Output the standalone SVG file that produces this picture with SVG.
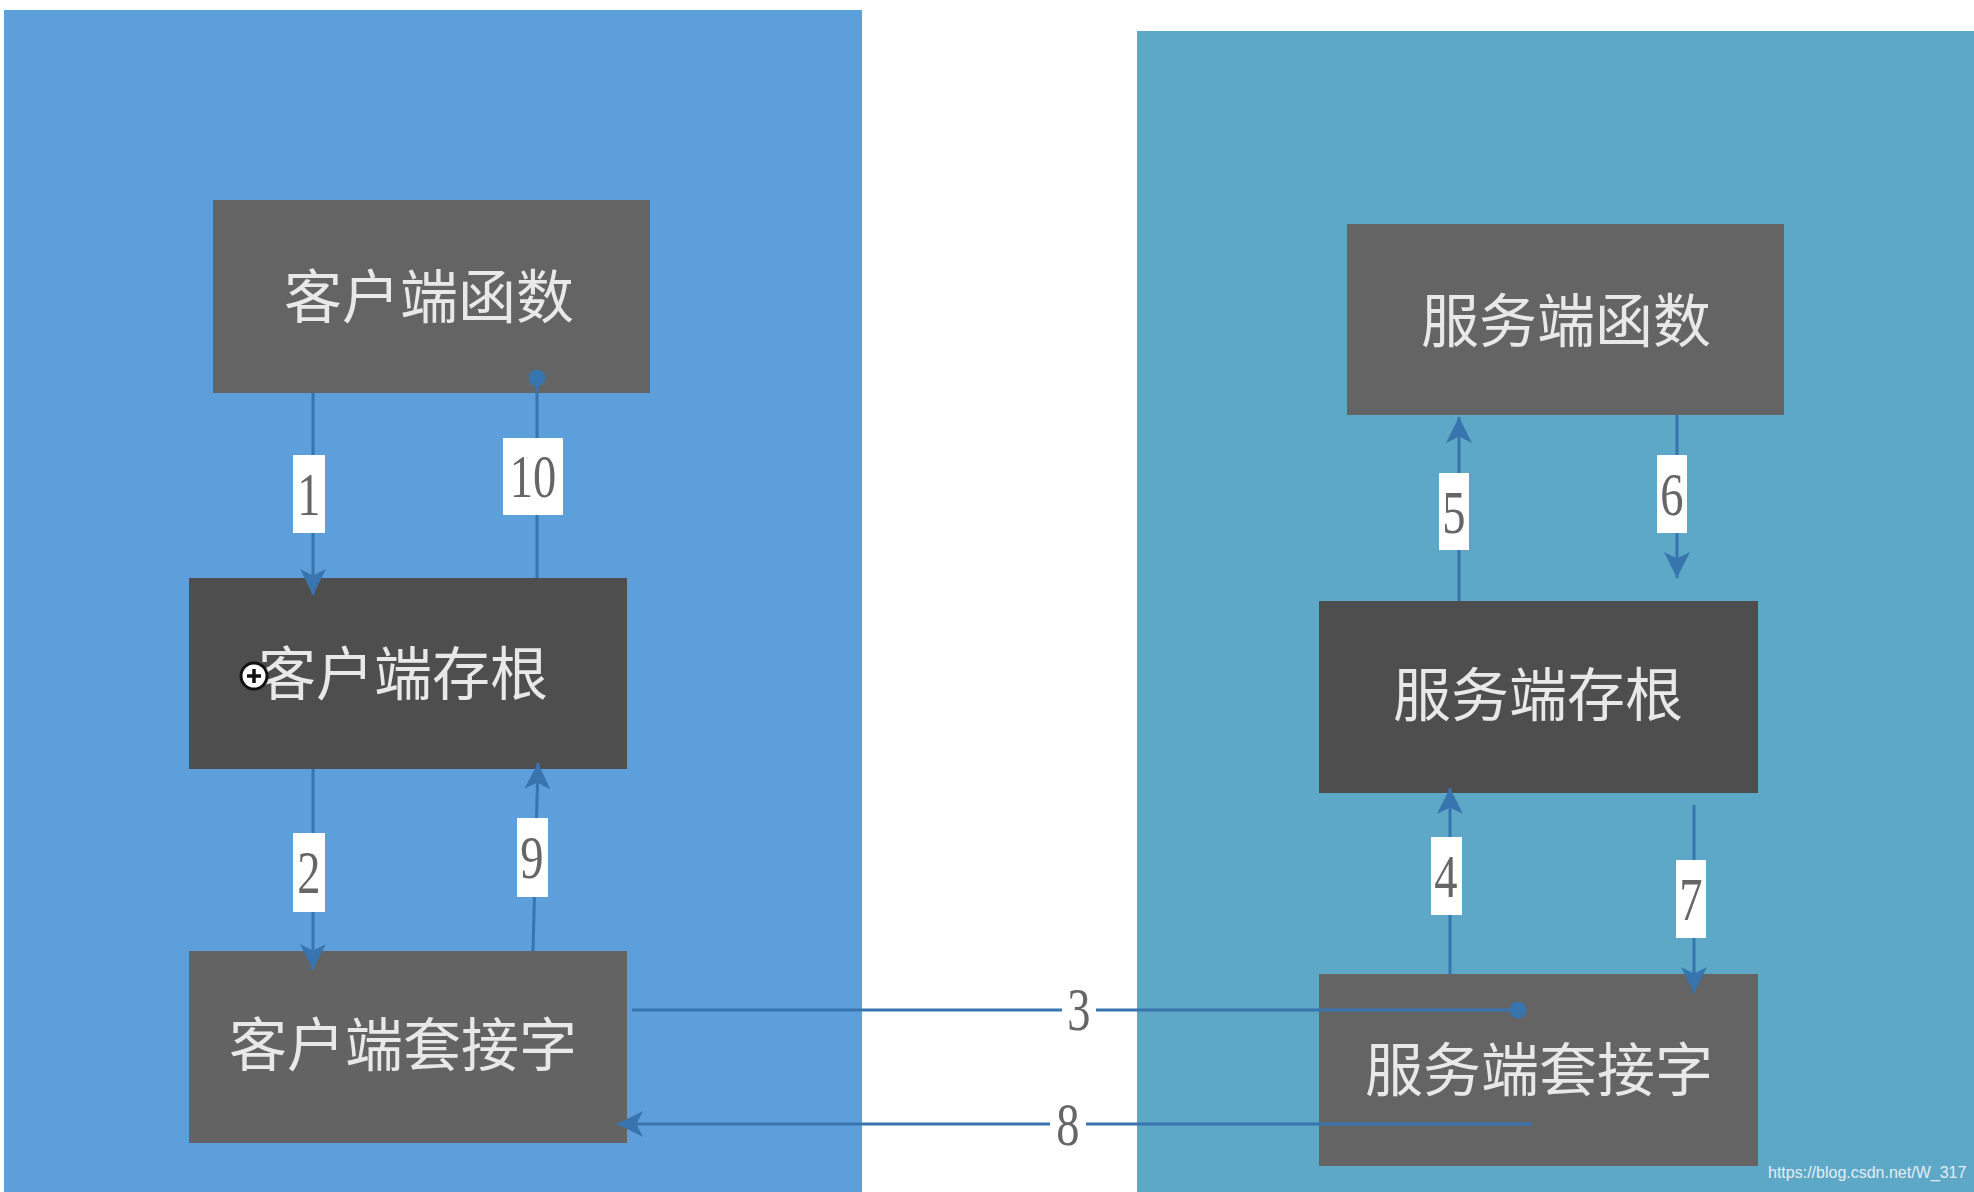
<svg xmlns="http://www.w3.org/2000/svg" width="1974" height="1192" viewBox="0 0 1974 1192">
<defs>
<style>
.node rect{stroke:none}
.nt{font-family:"Noto Sans CJK SC","Noto Sans",sans-serif;font-size:58px;fill:#e8e8e8;text-anchor:middle}
.conn{stroke:#3874ad;stroke-width:3;fill:none}
.lb{fill:#ffffff}
.lt{font-family:"Liberation Serif","DejaVu Serif",serif;font-size:62px;fill:#666666;text-anchor:middle}
.wm{font-family:"Liberation Sans",Arial,sans-serif;font-size:16px;fill:#e4edf3}
</style>
<marker id="ah" viewBox="0 0 10 10" refX="10" refY="5" markerUnits="userSpaceOnUse" markerWidth="26" markerHeight="28" orient="auto">
<path d="M0,0 L10,5 L0,10 L2.5,5 z" fill="#3874ad"/>
</marker>
<marker id="dot" viewBox="0 0 10 10" refX="5" refY="5" markerUnits="userSpaceOnUse" markerWidth="17" markerHeight="17" orient="auto">
<circle cx="5" cy="5" r="5" fill="#3874ad"/>
</marker>
</defs>
<rect x="0" y="0" width="1974" height="1192" fill="#ffffff"/>
<g id="client-panel"><rect x="4" y="10" width="858" height="1182" fill="#5c9fda"/></g>
<g id="server-panel"><rect x="1137" y="31" width="837" height="1161" fill="#5ea8c7"/></g>

<g id="client-func" class="node"><rect x="213" y="200" width="437" height="193" fill="#646464"/><text class="nt" x="429" y="318">客户端函数</text></g>
<g id="client-stub" class="node"><rect x="189" y="578" width="438" height="191" fill="#4e4e4e"/><text class="nt" x="403" y="695">客户端存根</text></g>
<g id="client-socket" class="node"><rect x="189" y="951" width="438" height="192" fill="#636363"/><text class="nt" x="403" y="1066">客户端套接字</text></g>
<g id="server-func" class="node"><rect x="1347" y="224" width="437" height="191" fill="#646464"/><text class="nt" x="1566" y="342">服务端函数</text></g>
<g id="server-stub" class="node"><rect x="1319" y="601" width="439" height="192" fill="#4e4e4e"/><text class="nt" x="1538" y="716">服务端存根</text></g>
<g id="server-socket" class="node"><rect x="1319" y="974" width="439" height="192" fill="#646464"/><text class="nt" x="1539" y="1091">服务端套接字</text></g>

<g id="connectors">
<line class="conn" x1="313" y1="393" x2="313" y2="595" marker-end="url(#ah)"/>
<line class="conn" x1="537" y1="578" x2="537" y2="378" marker-end="url(#dot)"/>
<line class="conn" x1="313" y1="769" x2="313" y2="970" marker-end="url(#ah)"/>
<line class="conn" x1="533" y1="951" x2="538" y2="763" marker-end="url(#ah)"/>
<line class="conn" x1="632" y1="1010" x2="1518" y2="1010" marker-end="url(#dot)"/>
<line class="conn" x1="1450" y1="974" x2="1450" y2="788" marker-end="url(#ah)"/>
<line class="conn" x1="1459" y1="601" x2="1459" y2="417" marker-end="url(#ah)"/>
<line class="conn" x1="1677" y1="415" x2="1677" y2="578" marker-end="url(#ah)"/>
<line class="conn" x1="1694" y1="805" x2="1694" y2="993" marker-end="url(#ah)"/>
<line class="conn" x1="1532" y1="1124" x2="617" y2="1124" marker-end="url(#ah)"/>

<rect class="lb" x="293" y="455" width="32" height="78"/><text class="lt" transform="translate(309,515) scale(0.75,1)">1</text>
<rect class="lb" x="503" y="438" width="60" height="77"/><text class="lt" transform="translate(533,497) scale(0.75,1)">10</text>
<rect class="lb" x="293" y="833" width="32" height="79"/><text class="lt" transform="translate(309,893) scale(0.75,1)">2</text>
<rect class="lb" x="517" y="818" width="31" height="79"/><text class="lt" transform="translate(532,878) scale(0.75,1)">9</text>
<rect class="lb" x="1062" y="988" width="34" height="46"/><text class="lt" transform="translate(1079,1030) scale(0.75,1)">3</text>
<rect class="lb" x="1431" y="837" width="31" height="78"/><text class="lt" transform="translate(1446,897) scale(0.75,1)">4</text>
<rect class="lb" x="1439" y="473" width="30" height="77"/><text class="lt" transform="translate(1454,533) scale(0.75,1)">5</text>
<rect class="lb" x="1657" y="455" width="30" height="78"/><text class="lt" transform="translate(1672,515) scale(0.75,1)">6</text>
<rect class="lb" x="1676" y="860" width="30" height="78"/><text class="lt" transform="translate(1691,920) scale(0.75,1)">7</text>
<rect class="lb" x="1050" y="1102" width="36" height="46"/><text class="lt" transform="translate(1068,1145) scale(0.75,1)">8</text>
</g>

<g id="cursor">
<circle cx="254" cy="676" r="13" fill="#ffffff" stroke="#111111" stroke-width="3"/>
<path d="M247,676 H261 M254,669 V683" stroke="#111111" stroke-width="3.5"/>
</g>
<text class="wm" x="1768" y="1178">https://blog.csdn.net/W_317</text>
</svg>
